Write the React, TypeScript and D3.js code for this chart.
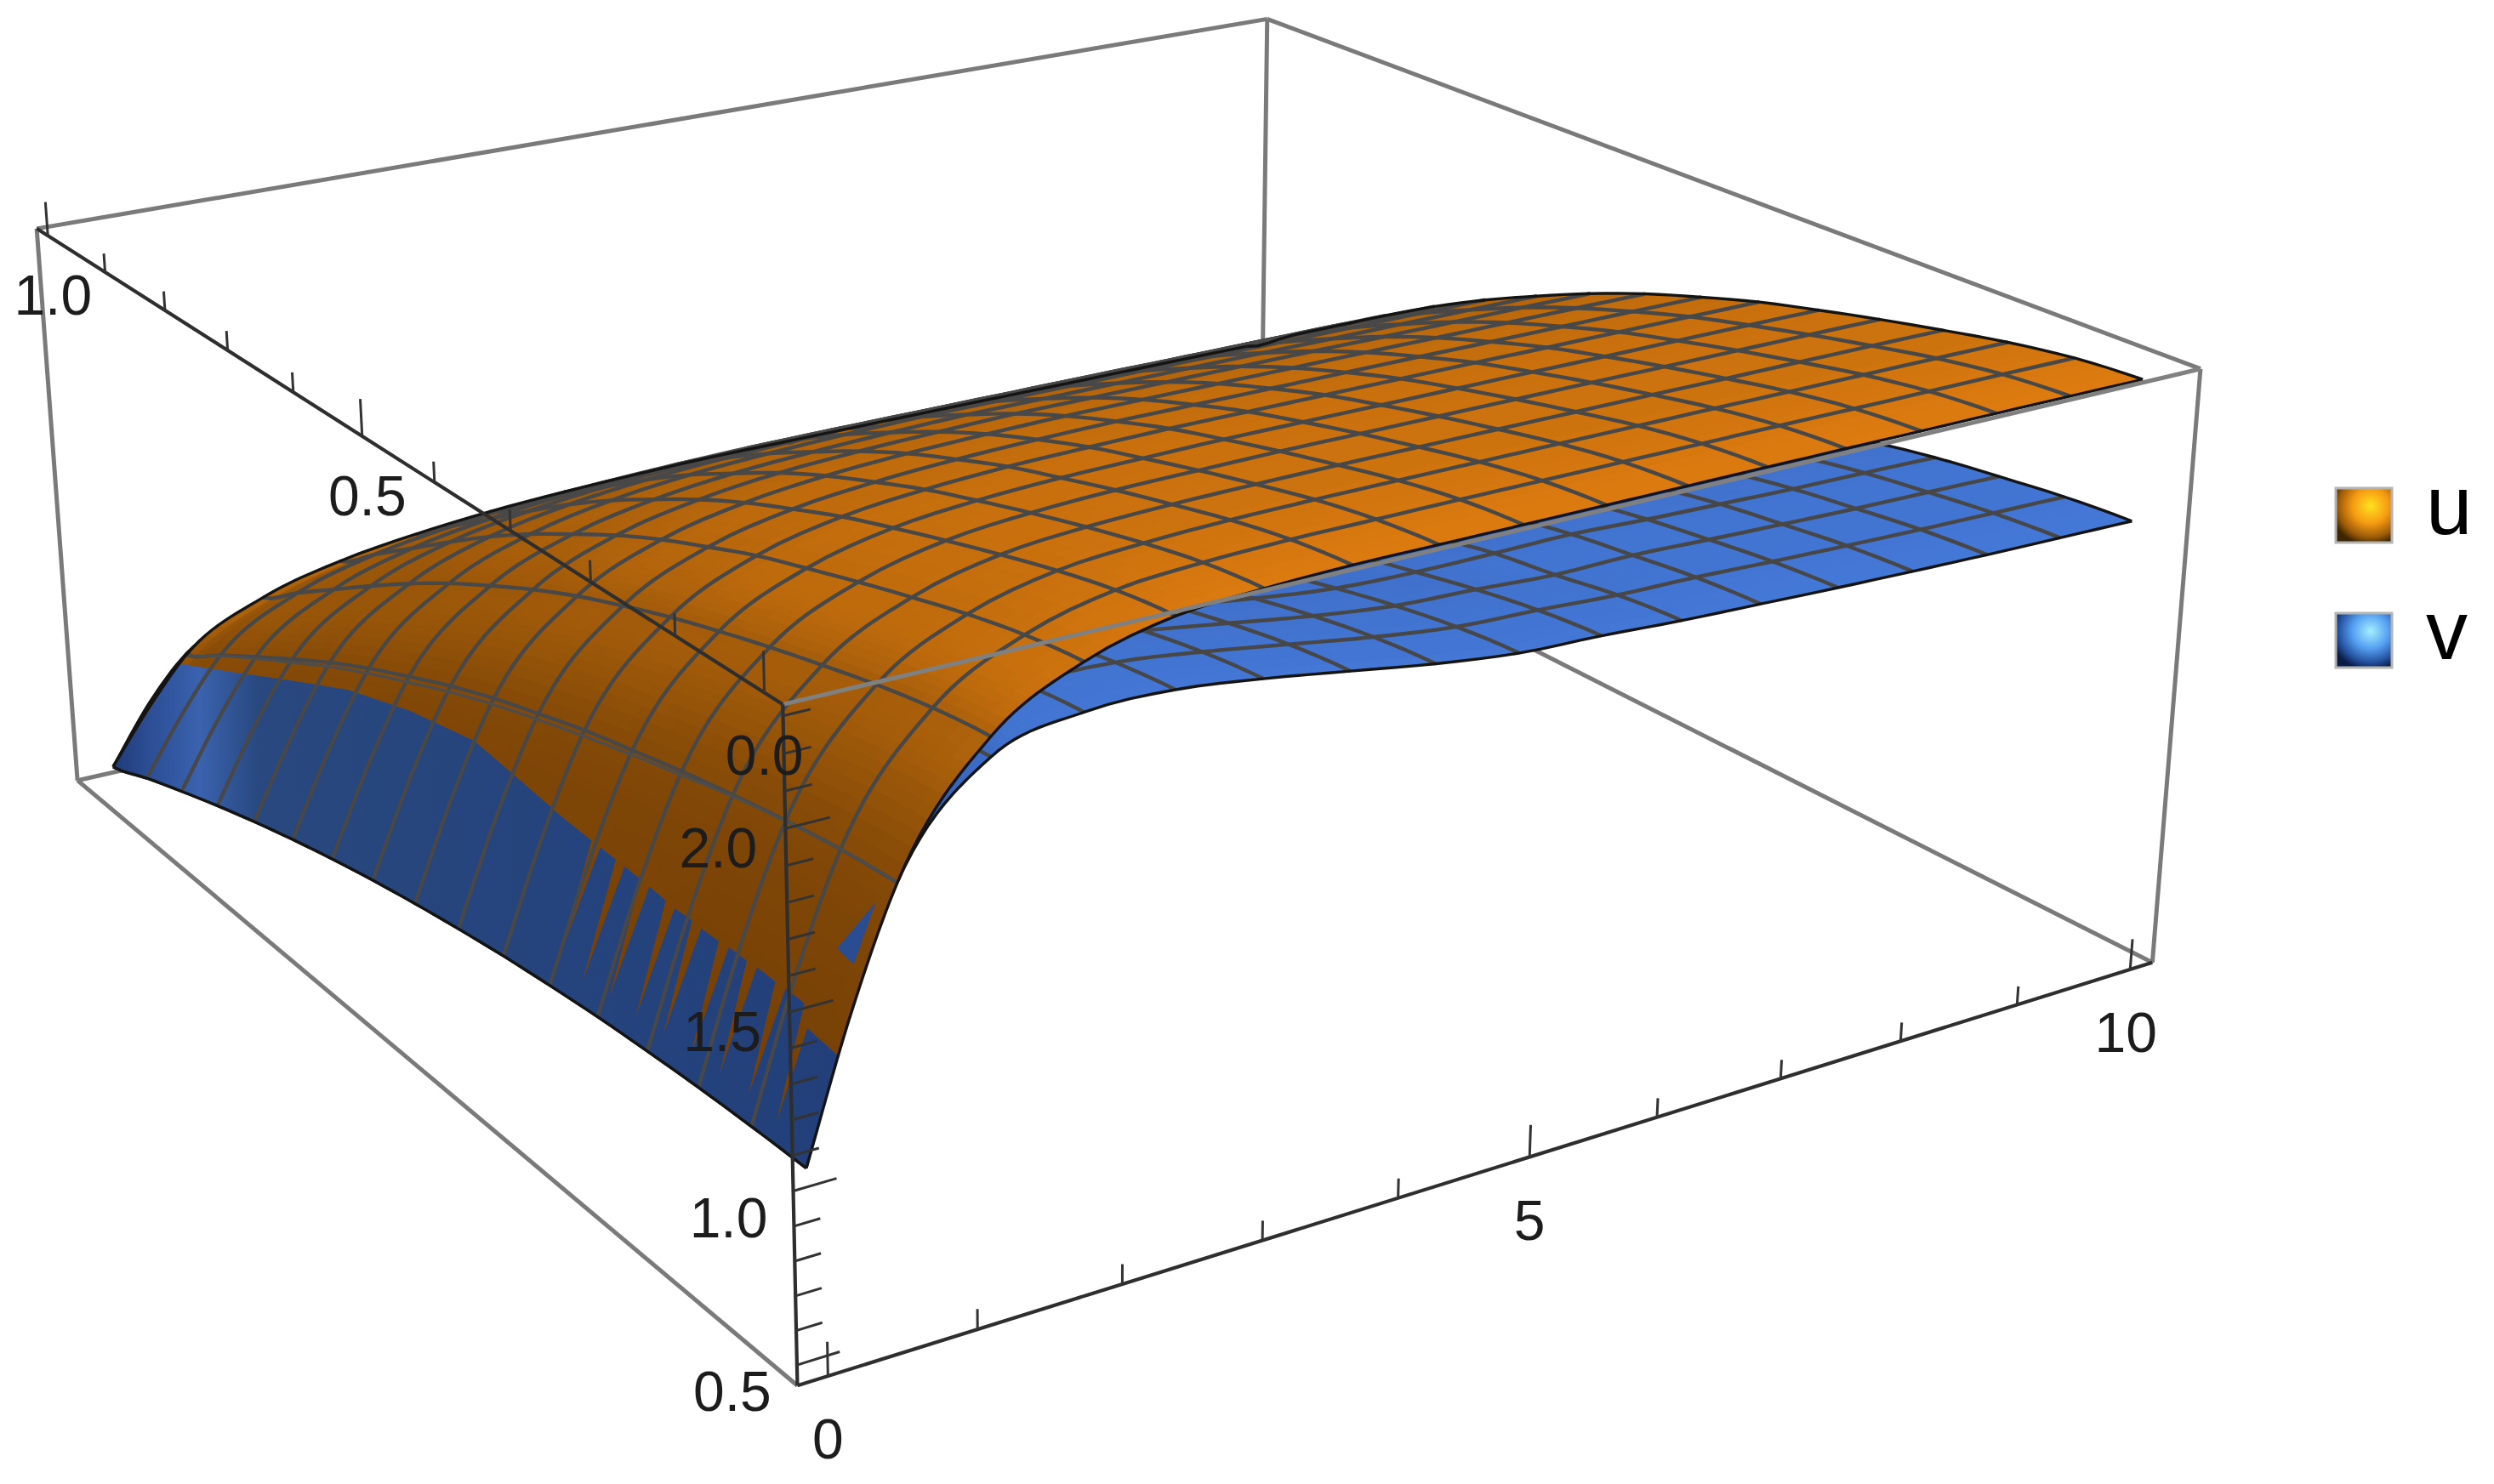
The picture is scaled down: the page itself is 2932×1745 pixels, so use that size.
import * as d3 from "d3";

// axis ranges (with the 2% padding of the plot box)
const tDomain = [-0.2, 10.2];
const sDomain = [-0.02, 1.02];
const zDomain = [0.44, 2.33];

const tLabels = [0, 5, 10];
const sLabels = [0, 0.5, 1];
const zLabels = [0.5, 1, 1.5, 2];
const tTicks = d3.range(0, 11);
const sTicks = d3.range(0, 11).map((d) => d / 10);
const zTicks = d3.range(5, 24).map((d) => d / 10);

// grid of the table below (index 1 is a helper row, not a mesh line)
const tKnots = [0, 0.31, 0.62, 1.24, 1.86, 2.48, 3.09, 3.71, 4.33, 4.95, 5.57, 6.19, 6.81, 7.43, 8.04, 8.66, 9.28, 9.9];

// rows: s in steps of 1/16, columns: t
const uValues = [
  [1.000, 1.403, 1.729, 2.066, 2.209, 2.275, 2.293, 2.300, 2.300, 2.300, 2.300, 2.300, 2.300, 2.300, 2.299, 2.299, 2.298, 2.297],
  [0.998, 1.394, 1.716, 2.047, 2.189, 2.255, 2.275, 2.283, 2.284, 2.285, 2.285, 2.285, 2.285, 2.285, 2.284, 2.284, 2.284, 2.283],
  [0.992, 1.379, 1.693, 2.015, 2.154, 2.219, 2.241, 2.251, 2.254, 2.255, 2.255, 2.255, 2.255, 2.255, 2.254, 2.254, 2.254, 2.253],
  [0.982, 1.357, 1.664, 1.975, 2.110, 2.175, 2.199, 2.209, 2.213, 2.215, 2.215, 2.215, 2.215, 2.215, 2.214, 2.214, 2.214, 2.213],
  [0.969, 1.333, 1.631, 1.932, 2.063, 2.127, 2.153, 2.165, 2.169, 2.172, 2.172, 2.172, 2.172, 2.172, 2.171, 2.171, 2.171, 2.170],
  [0.951, 1.303, 1.593, 1.885, 2.013, 2.076, 2.103, 2.116, 2.121, 2.125, 2.125, 2.125, 2.125, 2.125, 2.124, 2.124, 2.124, 2.123],
  [0.930, 1.272, 1.554, 1.834, 1.961, 2.022, 2.050, 2.065, 2.071, 2.075, 2.075, 2.075, 2.075, 2.075, 2.074, 2.074, 2.074, 2.073],
  [0.904, 1.234, 1.506, 1.776, 1.898, 1.958, 1.987, 2.003, 2.011, 2.015, 2.015, 2.015, 2.015, 2.015, 2.014, 2.014, 2.014, 2.013],
  [0.875, 1.193, 1.456, 1.714, 1.832, 1.891, 1.921, 1.937, 1.945, 1.950, 1.950, 1.950, 1.950, 1.950, 1.949, 1.949, 1.949, 1.948],
  [0.842, 1.146, 1.398, 1.643, 1.757, 1.814, 1.845, 1.860, 1.869, 1.875, 1.875, 1.875, 1.875, 1.875, 1.874, 1.874, 1.874, 1.873],
  [0.805, 1.092, 1.332, 1.564, 1.672, 1.728, 1.758, 1.774, 1.784, 1.790, 1.790, 1.790, 1.790, 1.790, 1.789, 1.789, 1.789, 1.788],
  [0.764, 1.036, 1.263, 1.481, 1.584, 1.638, 1.668, 1.684, 1.694, 1.700, 1.700, 1.700, 1.700, 1.700, 1.699, 1.699, 1.699, 1.698],
  [0.719, 0.973, 1.187, 1.389, 1.487, 1.538, 1.567, 1.584, 1.594, 1.600, 1.600, 1.600, 1.600, 1.600, 1.599, 1.599, 1.599, 1.598],
  [0.670, 0.906, 1.103, 1.290, 1.381, 1.429, 1.457, 1.474, 1.484, 1.490, 1.490, 1.490, 1.490, 1.490, 1.489, 1.489, 1.489, 1.488],
  [0.617, 0.834, 1.016, 1.187, 1.270, 1.315, 1.343, 1.359, 1.369, 1.375, 1.375, 1.375, 1.375, 1.375, 1.374, 1.374, 1.374, 1.373],
  [0.561, 0.760, 0.927, 1.084, 1.160, 1.202, 1.229, 1.244, 1.254, 1.260, 1.260, 1.260, 1.260, 1.260, 1.259, 1.259, 1.259, 1.258],
  [0.500, 0.680, 0.834, 0.976, 1.046, 1.085, 1.110, 1.125, 1.134, 1.140, 1.140, 1.140, 1.140, 1.140, 1.139, 1.139, 1.139, 1.138],
];

const vValues = [
  [1.000, 1.420, 1.730, 2.010, 2.070, 2.070, 2.040, 2.000, 1.960, 1.930, 1.920, 1.905, 1.895, 1.885, 1.877, 1.870, 1.865, 1.860],
  [0.998, 1.411, 1.716, 1.992, 2.051, 2.051, 2.021, 1.982, 1.943, 1.913, 1.903, 1.889, 1.884, 1.874, 1.866, 1.859, 1.854, 1.849],
  [0.992, 1.394, 1.691, 1.960, 2.017, 2.017, 1.988, 1.950, 1.912, 1.883, 1.873, 1.859, 1.861, 1.852, 1.844, 1.837, 1.833, 1.828],
  [0.982, 1.371, 1.659, 1.918, 1.974, 1.974, 1.946, 1.909, 1.872, 1.844, 1.835, 1.835, 1.837, 1.827, 1.820, 1.813, 1.809, 1.804],
  [0.969, 1.343, 1.619, 1.869, 1.922, 1.922, 1.896, 1.860, 1.824, 1.798, 1.795, 1.795, 1.801, 1.793, 1.785, 1.779, 1.775, 1.770],
  [0.951, 1.309, 1.578, 1.813, 1.864, 1.864, 1.838, 1.804, 1.770, 1.744, 1.745, 1.748, 1.754, 1.746, 1.739, 1.733, 1.729, 1.725],
  [0.930, 1.278, 1.535, 1.752, 1.801, 1.801, 1.777, 1.744, 1.711, 1.687, 1.690, 1.695, 1.699, 1.690, 1.684, 1.678, 1.674, 1.670],
  [0.904, 1.240, 1.487, 1.688, 1.734, 1.734, 1.711, 1.680, 1.649, 1.626, 1.625, 1.625, 1.629, 1.621, 1.615, 1.609, 1.605, 1.601],
  [0.875, 1.197, 1.436, 1.616, 1.660, 1.660, 1.638, 1.609, 1.580, 1.558, 1.550, 1.539, 1.532, 1.525, 1.519, 1.514, 1.510, 1.506],
  [0.842, 1.149, 1.378, 1.542, 1.584, 1.584, 1.563, 1.535, 1.507, 1.486, 1.480, 1.469, 1.462, 1.455, 1.450, 1.445, 1.441, 1.438],
  [0.805, 1.097, 1.313, 1.464, 1.503, 1.503, 1.483, 1.457, 1.431, 1.411, 1.405, 1.395, 1.389, 1.382, 1.377, 1.372, 1.369, 1.366],
  [0.764, 1.041, 1.246, 1.382, 1.419, 1.419, 1.400, 1.376, 1.352, 1.333, 1.327, 1.318, 1.312, 1.306, 1.301, 1.296, 1.293, 1.290],
  [0.719, 0.979, 1.173, 1.297, 1.331, 1.331, 1.314, 1.291, 1.268, 1.251, 1.245, 1.237, 1.231, 1.225, 1.221, 1.217, 1.214, 1.211],
  [0.670, 0.913, 1.092, 1.208, 1.240, 1.240, 1.224, 1.203, 1.182, 1.166, 1.160, 1.152, 1.147, 1.142, 1.137, 1.134, 1.131, 1.128],
  [0.617, 0.842, 1.010, 1.116, 1.146, 1.146, 1.131, 1.111, 1.091, 1.076, 1.071, 1.064, 1.059, 1.054, 1.050, 1.047, 1.044, 1.042],
  [0.561, 0.770, 0.925, 1.021, 1.048, 1.048, 1.034, 1.016, 0.998, 0.984, 0.980, 0.973, 0.968, 0.964, 0.960, 0.957, 0.955, 0.952],
  [0.500, 0.694, 0.838, 0.923, 0.948, 0.948, 0.936, 0.919, 0.902, 0.890, 0.885, 0.879, 0.875, 0.871, 0.867, 0.865, 0.862, 0.860],
];

// where v pokes through u near t=0: (s, t) along the jagged border
const crossS = [1, 0.9, 0.8, 0.7, 0.6, 0.5, 0.42, 0.36, 0.34, 0.318, 0.312, 0.306, 0.284, 0.278, 0.272, 0.25, 0.244, 0.238, 0.216, 0.21, 0.204, 0.182, 0.176, 0.17, 0.148, 0.142, 0.136, 0.114, 0.108, 0.102, 0.08, 0.074, 0.068, 0.046, 0.04, 0.036, 0];
const crossT = [0.56, 0.53, 0.52, 0.52, 0.5, 0.47, 0.41, 0.37, 0.36, 0.35, 0.05, 0.345, 0.335, 0.05, 0.33, 0.32, 0.05, 0.315, 0.305, 0.05, 0.3, 0.295, 0.05, 0.29, 0.285, 0.05, 0.285, 0.28, 0.05, 0.28, 0.275, 0.05, 0.275, 0.27, 0.04, 0.23, 0.22];
const islandS = [0.032, 0.012, 0.012];
const islandT = [0.41, 0.4, 0.55];

// reference pixels of the box corners, used to fit the perspective
const boxCorners: [number, number, number, number, number][] = [
  [0, 0, 0, 938, 1630],
  [1, 0, 0, 2530, 1132],
  [1, 0, 1, 2587, 434],
  [0, 0, 1, 920, 827],
  [1, 1, 1, 1490, 22],
  [0, 1, 1, 43, 270],
  [0, 1, 0, 91, 917],
];

const tScale = d3.scaleLinear().domain(tDomain).range([0, 1]);
const sScale = d3.scaleLinear().domain(sDomain).range([0, 1]);
const zScale = d3.scaleLinear().domain(zDomain).range([0, 1]);

// least squares for the 3x4 camera matrix
function fitCamera() {
  const rows: number[][] = [];
  const rhs: number[] = [];
  boxCorners.forEach(([x, y, z, px, py]) => {
    const u = px / 1000;
    const v = py / 1000;
    rows.push([x, y, z, 1, 0, 0, 0, 0, -u * x, -u * y, -u * z]);
    rhs.push(u);
    rows.push([0, 0, 0, 0, x, y, z, 1, -v * x, -v * y, -v * z]);
    rhs.push(v);
  });
  const n = 11;
  const m = d3.range(n).map((i) => {
    const row = d3.range(n).map((j) => d3.sum(rows, (r) => r[i] * r[j]));
    row.push(d3.sum(rows, (r, k) => r[i] * rhs[k]));
    return row;
  });
  for (let i = 0; i < n; i++) {
    let p = i;
    for (let k = i + 1; k < n; k++) if (Math.abs(m[k][i]) > Math.abs(m[p][i])) p = k;
    [m[i], m[p]] = [m[p], m[i]];
    for (let k = 0; k < n; k++) {
      if (k === i) continue;
      const f = m[k][i] / m[i][i];
      for (let j = i; j <= n; j++) m[k][j] -= f * m[i][j];
    }
  }
  return d3.range(n).map((i) => m[i][n] / m[i][i]);
}
const cam = fitCamera();

function project(t: number, s: number, z: number): [number, number] {
  const x = tScale(t);
  const y = sScale(s);
  const h = zScale(z);
  const w = cam[8] * x + cam[9] * y + cam[10] * h + 1;
  return [
    (1000 * (cam[0] * x + cam[1] * y + cam[2] * h + cam[3])) / w,
    (1000 * (cam[4] * x + cam[5] * y + cam[6] * h + cam[7])) / w,
  ];
}

const line = d3.line();

// smooth read of one row along t
function hermite(row: number[], t: number) {
  let i = d3.bisectRight(tKnots, t) - 1;
  i = Math.max(0, Math.min(tKnots.length - 2, i));
  const h = tKnots[i + 1] - tKnots[i];
  const slope = (k: number) => {
    if (k === 0) return (row[1] - row[0]) / (tKnots[1] - tKnots[0]);
    if (k === tKnots.length - 1) return (row[k] - row[k - 1]) / (tKnots[k] - tKnots[k - 1]);
    const a = tKnots[k] - tKnots[k - 1];
    const b = tKnots[k + 1] - tKnots[k];
    return (((row[k + 1] - row[k]) / b) * a + ((row[k] - row[k - 1]) / a) * b) / (a + b);
  };
  const x = (t - tKnots[i]) / h;
  const x2 = x * x;
  const x3 = x2 * x;
  return (
    (2 * x3 - 3 * x2 + 1) * row[i] +
    (x3 - 2 * x2 + x) * h * slope(i) +
    (-2 * x3 + 3 * x2) * row[i + 1] +
    (x3 - x2) * h * slope(i + 1)
  );
}

function surfaceZ(values: number[][], t: number, s: number) {
  const f = s * 16;
  const j = Math.max(0, Math.min(15, Math.floor(f)));
  const x = f - j;
  const at = (k: number) => hermite(values[Math.max(0, Math.min(16, k))], t);
  const p0 = at(j - 1);
  const p1 = at(j);
  const p2 = at(j + 1);
  const p3 = at(j + 2);
  return (
    0.5 *
    (2 * p1 +
      (p2 - p0) * x +
      (2 * p0 - 5 * p1 + 4 * p2 - p3) * x * x +
      (3 * p1 - p0 - 3 * p2 + p3) * x * x * x)
  );
}

const tFine: number[] = [];
tKnots.slice(0, -1).forEach((t, i) => {
  const n = i < 4 ? 12 : 4;
  for (let k = 0; k < n; k++) tFine.push(t + ((tKnots[i + 1] - t) * k) / n);
});
tFine.push(tKnots[tKnots.length - 1]);
const sFine = d3.range(0, 65).map((d) => d / 64);

const zAxisRatio = 0.4 / (zDomain[1] - zDomain[0]);
const shadeStops = [0.05, 0.2, 0.37, 0.5, 0.7];

function buildSurface(values: number[][], ramp: string[]) {
  const shade = d3.scaleLinear<string>().domain(shadeStops).range(ramp).clamp(true);
  const z = tFine.map((t) => sFine.map((s) => surfaceZ(values, t, s)));
  const p = tFine.map((t, a) => sFine.map((s, b) => project(t, s, z[a][b])));
  const buckets = new Map<string, string>();
  for (let a = 0; a < tFine.length - 1; a++) {
    for (let b = 0; b < sFine.length - 1; b++) {
      const dt = tFine[a + 1] - tFine[a];
      const ds = sFine[b + 1] - sFine[b];
      const zx = ((z[a + 1][b] + z[a + 1][b + 1] - z[a][b] - z[a][b + 1]) / 2 / dt) * 10.4 * zAxisRatio;
      const zy = ((z[a][b + 1] + z[a + 1][b + 1] - z[a][b] - z[a + 1][b]) / 2 / ds) * 1.04 * zAxisRatio;
      const dot = (-zx * 0.1 + zy * 0.7 + 0.7) / Math.sqrt(zx * zx + zy * zy + 1);
      const level = Math.round(dot * 150) / 150;
      const color = d3.color(shade(level))!.formatHex();
      const d = line([p[a][b], p[a + 1][b], p[a + 1][b + 1], p[a][b + 1]]) + "Z";
      buckets.set(color, (buckets.get(color) || "") + d);
    }
  }
  const tLine = (t: number) => line(p[tFine.indexOf(t)]) as string;
  const sLine = (i: number) => line(p.map((col) => col[i * 4])) as string;
  return { buckets: Array.from(buckets), tLine, sLine };
}

const uSurface = buildSurface(uValues, ["#6b3a04", "#824807", "#9c5809", "#bd6a0c", "#e07d10"]);
const vSurface = buildSurface(vValues, ["#1c3670", "#24447f", "#2f55a0", "#3a69c2", "#4579d8"]);

const meshT = tKnots.filter((t, i) => i > 1 && i < tKnots.length - 1);
const meshS = d3.range(1, 16);

const onU = (t: number, s: number) => project(t, s, surfaceZ(uValues, t, s));
const blueBorder =
  line([
    ...crossS.map((s, i) => onU(crossT[i], s)),
    ...d3.range(0, 50).map((d) => onU(0, d / 49)),
  ]) + "Z";
const blueIsland = line(islandS.map((s, i) => onU(islandT[i], s))) + "Z";

const edge = (a: [number, number, number], b: [number, number, number]) =>
  line([project(...a), project(...b)]) as string;

const [t0, t1] = tDomain;
const [s0, s1] = sDomain;
const [z0, z1] = zDomain;

const backEdges = [
  edge([t0, s1, z1], [t1, s1, z1]),
  edge([t1, s1, z1], [t1, s0, z1]),
  edge([t1, s1, z1], [t1, s1, z0]),
  edge([t1, s1, z0], [t1, s0, z0]),
  edge([t1, s1, z0], [t0, s1, z0]),
  edge([t0, s1, z0], [t0, s1, z1]),
  edge([t1, s0, z0], [t1, s0, z1]),
  edge([t0, s1, z0], [t0, s0, z0]),
];

const FONT = "'Liberation Sans', Arial, sans-serif";

function MeshLines({ surface, color }: { surface: ReturnType<typeof buildSurface>; color: string }) {
  return (
    <g fill="none" stroke={color} strokeWidth={4.4}>
      {meshS.map((i) => (
        <path key={"s" + i} d={surface.sLine(i)} />
      ))}
      {meshT.map((t) => (
        <path key={"t" + t} d={surface.tLine(t)} />
      ))}
    </g>
  );
}

function Fill({ surface }: { surface: ReturnType<typeof buildSurface> }) {
  return (
    <g>
      {surface.buckets.map(([color, d]) => (
        <path key={color} d={d} fill={color} stroke={color} strokeWidth={1} />
      ))}
    </g>
  );
}

function Outline({ surface }: { surface: ReturnType<typeof buildSurface> }) {
  return (
    <g fill="none" stroke="#141414" strokeWidth={3.4}>
      <path d={surface.sLine(0)} />
      <path d={surface.sLine(16)} />
      <path d={surface.tLine(0)} />
      <path d={surface.tLine(tKnots[tKnots.length - 1])} />
    </g>
  );
}

export default function App() {
  const fmt = d3.format(".1f");
  return (
    <svg
      width={2932}
      height={1745}
      style={{ position: "absolute", left: 0, top: 0, background: "#fff" }}
      fontFamily={FONT}
    >
      <defs>
        <linearGradient id="overBlue" gradientUnits="userSpaceOnUse" x1={130} y1={0} x2={1000} y2={0}>
          <stop offset="0" stopColor="#1f3a74" />
          <stop offset="0.05" stopColor="#2b4d94" />
          <stop offset="0.12" stopColor="#3a62ae" />
          <stop offset="0.2" stopColor="#28487f" />
          <stop offset="1" stopColor="#223f7a" />
        </linearGradient>
        <radialGradient id="swatchU" cx="0.62" cy="0.33" r="0.72">
          <stop offset="0" stopColor="#ffe21e" />
          <stop offset="0.45" stopColor="#f59a12" />
          <stop offset="0.8" stopColor="#9a5a08" />
          <stop offset="1" stopColor="#3d2600" />
        </radialGradient>
        <radialGradient id="swatchV" cx="0.62" cy="0.33" r="0.72">
          <stop offset="0" stopColor="#a4eeff" />
          <stop offset="0.45" stopColor="#559ff2" />
          <stop offset="0.8" stopColor="#23509c" />
          <stop offset="1" stopColor="#0b1c46" />
        </radialGradient>
      </defs>

      {/* back of the box */}
      <g fill="none" stroke="#7a7a7a" strokeWidth={5}>
        {backEdges.map((d, i) => (
          <path key={i} d={d} />
        ))}
      </g>

      <Fill surface={vSurface} />
      <MeshLines surface={vSurface} color="#474747" />
      <Outline surface={vSurface} />

      <Fill surface={uSurface} />
      <path d={blueBorder} fill="url(#overBlue)" />
      <path d={blueIsland} fill="#2a4c90" />
      <MeshLines surface={uSurface} color="#484848" />
      <path d={vSurface.tLine(tKnots[2])} fill="none" stroke="#4d4d4d" strokeWidth={3.2} />
      <Outline surface={uSurface} />

      {/* front edges and axes */}
      <path d={edge([t0, s0, z1], [t1, s0, z1])} fill="none" stroke="#808080" strokeWidth={5} />
      <g fill="none" stroke="#2e2e2e" strokeWidth={4.2}>
        <path d={edge([t0, s0, z1], [t0, s1, z1])} />
        <path d={edge([t0, s0, z0], [t0, s0, z1])} />
        <path d={edge([t0, s0, z0], [t1, s0, z0])} />
      </g>
      <g fill="none" stroke="#333" strokeWidth={3}>
        {sTicks.map((s, i) => (
          <path key={s} d={edge([t0, s, z1], [t0, s, z1 + (i % 5 === 0 ? 0.11 : 0.06)])} />
        ))}
        {tTicks.map((t, i) => (
          <path key={t} d={edge([t, s0, z0], [t, s0, z0 + (i % 5 === 0 ? 0.1 : 0.06)])} />
        ))}
        {zTicks.map((z, i) => (
          <path key={z} d={edge([t0, s0, z], [t0 + (i % 5 === 0 ? 0.28 : 0.17), s0, z])} />
        ))}
      </g>

      <g fontSize={66} fill="#1c1c1c" textAnchor="middle">
        {sLabels.map((s) => {
          const [x, y] = project(t0, s, z1);
          return (
            <text key={s} x={x + (s === 0 ? 0 : 6)} y={y + (s === 0 ? 73 : 70)} dy="0.35em">
              {fmt(s)}
            </text>
          );
        })}
        {zLabels.map((z) => {
          const [x, y] = project(t0, s0, z);
          return (
            <text key={z} x={x - (z < 1.5 ? 76 : 79)} y={y + (z < 1.5 ? 31 : 23)} dy="0.35em">
              {fmt(z)}
            </text>
          );
        })}
        {tLabels.map((t) => {
          const [x, y] = project(t, s0, z0);
          return (
            <text key={t} x={x - (t === 10 ? 5 : 0)} y={y + 74} dy="0.35em">
              {t}
            </text>
          );
        })}
      </g>

      {/* legend */}
      <g stroke="#b4b4b4" strokeWidth={3}>
        <rect x={2746} y={574} width={66} height={64} fill="url(#swatchU)" />
        <rect x={2746} y={721} width={66} height={64} fill="url(#swatchV)" />
      </g>
      <g fontSize={98} fill="#000">
        <text x={2852} y={628}>u</text>
        <text x={2852} y={775}>v</text>
      </g>
    </svg>
  );
}
